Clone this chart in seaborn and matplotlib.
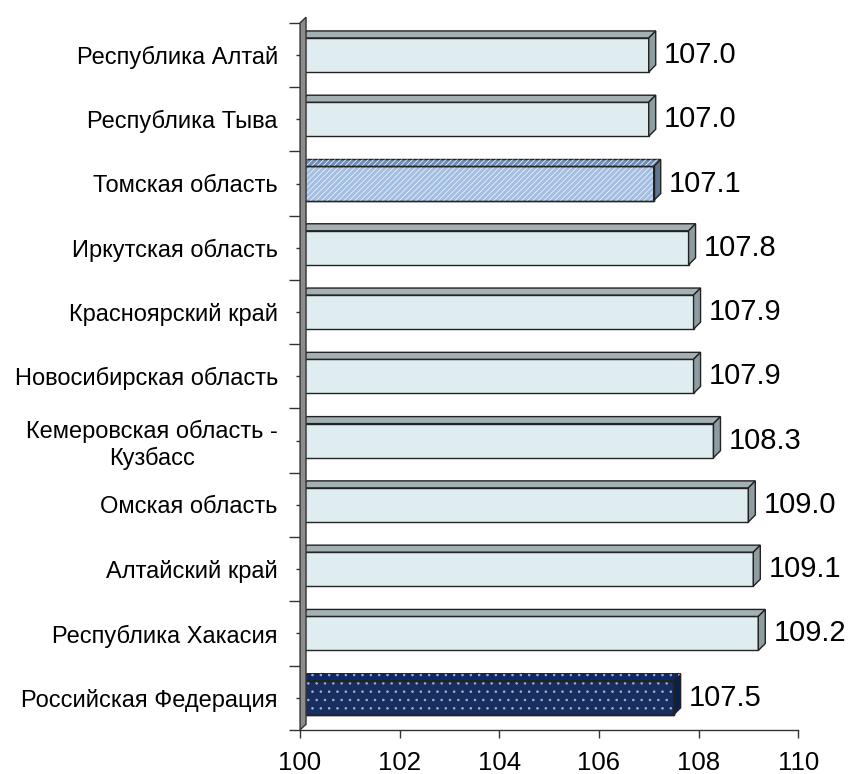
import numpy as np
import pandas as pd
import matplotlib
matplotlib.use("Agg")
import matplotlib.pyplot as plt
from matplotlib.patches import Polygon, Rectangle
import seaborn as sns

# Data (top to bottom)
regions = ["Республика Алтай", "Республика Тыва", "Томская область",
           "Иркутская область", "Красноярский край", "Новосибирская область",
           "Кемеровская область -\nКузбасс", "Омская область", "Алтайский край",
           "Республика Хакасия", "Российская Федерация"]
values = [107.0, 107.0, 107.1, 107.8, 107.9, 107.9, 108.3, 109.0, 109.1, 109.2, 107.5]
x_ticks = [100, 102, 104, 106, 108, 110]

# colours for front / top / side faces
light = ("#DCEEF4", "#A3B1B5", "#8E9DA1")
tomsk = ("#99BDEB", "#6F8FB8", "#5F7590")
russia = ("#0C2A6A", "#0C2A6A", "#0A2050")
styles = {r: light for r in regions}
styles["Томская область"] = tomsk
styles["Российская Федерация"] = russia
hatches = {"Томская область": "//////", "Российская Федерация": ".."}
hatch_cols = {"Томская область": "#E8F0FC", "Российская Федерация": "#9FB3DA"}

sns.set_style("white")
plt.rcParams["font.family"] = ["Liberation Sans", "DejaVu Sans"]
plt.rcParams["hatch.linewidth"] = 0.6

df = pd.DataFrame({"region": regions, "value": values})

fig = plt.figure(figsize=(8.5, 7.74), dpi=100)
ax = fig.add_axes([0.353, 0.057, 0.586, 0.9135])

sns.barplot(data=df, y="region", x="value", hue="region",
            palette={r: styles[r][0] for r in regions}, legend=False,
            orient="h", width=0.53, edgecolor="#222222", linewidth=1.0, ax=ax)

ax.set_xlim(100, 110)
ax.set_ylim(len(regions) - 0.5, -0.5)

# depth of the 3D effect in data units
fw, fh = fig.get_size_inches() * fig.dpi
pos = ax.get_position()
dx = 7 * 10 / (pos.width * fw)
dy = 7 * len(regions) / (pos.height * fh)

for i, (r, v) in enumerate(zip(regions, values)):
    front, top, side = styles[r]
    h = 0.53
    y0 = i - h / 2
    y1 = i + h / 2
    top_pts = [(100, y0), (v, y0), (v + dx, y0 - dy), (100 + dx, y0 - dy)]
    side_pts = [(v, y0), (v + dx, y0 - dy), (v + dx, y1 - dy), (v, y1)]
    ax.add_patch(Polygon(top_pts, closed=True, facecolor=top,
                         edgecolor="#222222", lw=1.0, zorder=3))
    ax.add_patch(Polygon(side_pts, closed=True, facecolor=side,
                         edgecolor="#222222", lw=1.0, zorder=3))
    if r in hatches:
        hc = hatch_cols[r]
        ax.add_patch(Rectangle((100, y0), v - 100, h, facecolor="none",
                               edgecolor=hc, hatch=hatches[r], lw=0, zorder=2.5))
        ax.add_patch(Polygon(top_pts, closed=True, facecolor="none",
                             edgecolor=hc, hatch=hatches[r], lw=0, zorder=3.1))
        ax.add_patch(Rectangle((100, y0), v - 100, h, facecolor="none",
                               edgecolor="#222222", lw=1.0, zorder=3.2))
    ax.text(v + dx + 0.17, i, f"{v:.1f}", va="center", ha="left",
            fontsize=21, color="black")

# side wall
ax.add_patch(Polygon([(0, 0), (0, 1), (0.012, 1.008), (0.012, 0.008)],
                     closed=True, transform=ax.transAxes, facecolor="#8C8C8C",
                     edgecolor="#333333", lw=1.0, clip_on=False, zorder=4))

ax.set_xticks(x_ticks)
ax.set_xticklabels([str(t) for t in x_ticks], fontsize=18.5)
ax.set_yticks(range(len(regions)))
ax.set_yticklabels(regions, fontsize=17, multialignment="center")
ax.set_yticks(np.arange(-0.5, len(regions), 1), minor=True)
ax.tick_params(axis="y", which="major", length=6, width=1, direction="inout",
               color="#333333", labelcolor="black", pad=13, left=True)
ax.tick_params(axis="y", which="minor", length=8, width=1, direction="out",
               color="#333333", left=True)
ax.tick_params(axis="x", length=6, width=1, direction="out", bottom=True,
               color="#333333", labelcolor="black", pad=9)

ax.set_xlabel("")
ax.set_ylabel("")
for s in ["top", "right", "left"]:
    ax.spines[s].set_visible(False)
ax.spines["bottom"].set_color("#333333")
ax.spines["bottom"].set_linewidth(1.0)

fig.savefig("out.png", dpi=100)
